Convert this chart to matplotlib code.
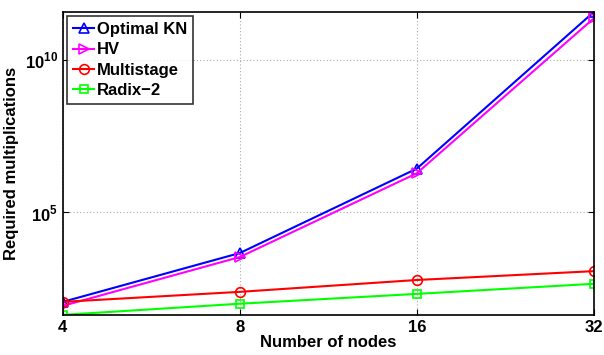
import numpy as np
import matplotlib.pyplot as plt
from matplotlib.ticker import FuncFormatter

plt.rcParams['font.family'] = ['Liberation Sans', 'DejaVu Sans']
plt.rcParams['font.weight'] = 'bold'
plt.rcParams['mathtext.fontset'] = 'custom'
plt.rcParams['mathtext.bf'] = 'Liberation Sans:bold'
plt.rcParams['mathtext.rm'] = 'Liberation Sans'

# Number of nodes and required multiplications
nodes = [4, 8, 16, 32]
optimal_kn = [1.15e2, 4.6e3, 2.7e6, 3.7e11]
hv = [8.5e1, 3.4e3, 1.9e6, 2.3e11]
multistage = [1.15e2, 2.45e2, 6.0e2, 1.17e3]
radix2 = [4.3e1, 1.0e2, 2.1e2, 4.5e2]

fig = plt.figure(figsize=(6.04, 3.55), dpi=100)
ax = fig.add_axes([0.104, 0.113, 0.879, 0.853])

ax.plot(nodes, optimal_kn, color='blue', marker='^', mfc='none', lw=1.5, ms=7, mew=1.2, label='Optimal KN')
ax.plot(nodes, hv, color='magenta', marker='>', mfc='none', lw=1.5, ms=7, mew=1.2, label='HV')
ax.plot(nodes, multistage, color='red', marker='o', mfc='none', lw=1.5, ms=7, mew=1.2, label='Multistage')
ax.plot(nodes, radix2, color='lime', marker='s', mfc='none', lw=1.5, ms=6, mew=1.2, label='Radix\u22122')

ax.set_xscale('log', base=2)
ax.set_yscale('log')
ax.set_xlim(4, 32)
all_vals = optimal_kn + hv + multistage + radix2
ax.set_ylim(min(all_vals), max(all_vals))
ax.set_xticks(nodes)
ax.set_xticklabels([str(n) for n in nodes])
ax.set_yticks([1e5, 1e10])
ax.yaxis.set_major_formatter(FuncFormatter(
    lambda v, p: r'$\mathbf{10}^{\mathrm{%d}}$' % round(np.log10(v))))
ax.minorticks_off()
ax.tick_params(direction='in', top=True, right=True, labelsize=12, length=4)
for lbl in ax.get_xticklabels() + ax.get_yticklabels():
    lbl.set_fontweight('bold')
ax.grid(True, linestyle=(0, (1, 2)), color='#aaaaaa', lw=0.8)

ax.set_xlabel('Number of nodes', fontsize=12, fontweight='bold', labelpad=0)
ax.set_ylabel('Required multiplications', fontsize=12, fontweight='bold')

leg = ax.legend(loc='upper left', fontsize=12, frameon=True, fancybox=False,
                edgecolor='black', handlelength=1.3, handletextpad=0.15,
                borderpad=0.35, labelspacing=0.32, borderaxespad=0.25)
leg.get_frame().set_linewidth(1.2)
for t in leg.get_texts():
    t.set_fontweight('bold')
for s in ax.spines.values():
    s.set_linewidth(1.2)

fig.savefig('out.png', dpi=100)
